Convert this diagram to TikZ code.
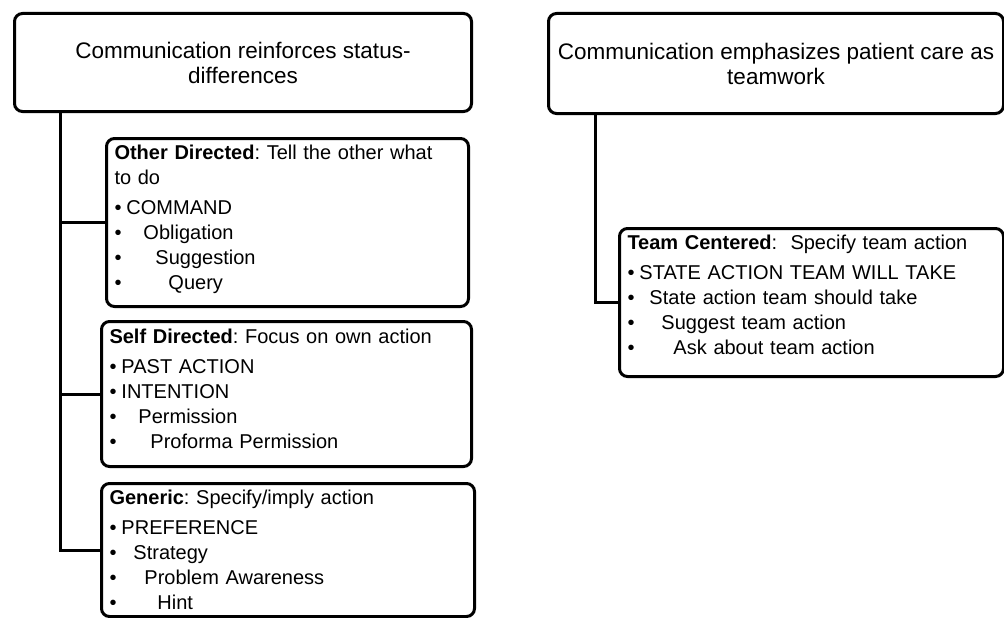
\documentclass[tikz,border=0pt]{standalone}
\usepackage{fontspec}
\setmainfont{Liberation Sans}
\usepackage{tikz}
\newcommand{\bul}[2][0pt]{\makebox[12pt][l]{\textbullet}\hspace*{#1}#2}
\newcommand{\lift}[1]{\rule[-#1]{0pt}{#1}}

\begin{document}
\begin{tikzpicture}[x=1pt,y=-1pt,
  topbox/.style={draw, line width=3pt, rounded corners=8pt, anchor=north west, align=center, font=\fontsize{22.5}{25}\selectfont\frenchspacing},
  catbox/.style={draw, line width=3pt, rounded corners=8pt, anchor=north west, align=left, inner xsep=8pt, font=\fontsize{20}{25}\selectfont\frenchspacing},
  link/.style={line width=3pt}]
\useasboundingbox (0,0) rectangle (1004,618);
\node[topbox, minimum width=457pt, minimum height=98pt] (status) at (13,12) {Communication reinforces status-\\differences};
\node[topbox, minimum width=455pt, minimum height=100pt] (teamwork) at (547,12) {Communication emphasizes patient care as\\teamwork};
\node[catbox, minimum width=362pt, text width=346pt, minimum height=168pt] (other) at (105,137) {\textbf{Other Directed}: Tell the other what\\to do\\[5pt]\bul{COMMAND}\\\bul[17pt]{Obligation}\\\bul[29pt]{Suggestion}\\\bul[42pt]{Query}\lift{11pt}};
\node[catbox, minimum width=370pt, text width=354pt, minimum height=145pt] (self) at (100,320) {\textbf{Self Directed}: Focus on own action\\[5pt]\bul{PAST ACTION}\\\bul{INTENTION}\\\bul[17pt]{Permission}\\\bul[29pt]{Proforma Permission}\lift{11pt}};
\node[catbox, minimum width=373pt, text width=357pt, minimum height=133pt] (generic) at (100,482) {\textbf{Generic}: Specify/imply action\\[5pt]\bul{PREFERENCE}\\\bul[12pt]{Strategy}\\\bul[23pt]{Problem Awareness}\\\bul[36pt]{Hint}};
\node[catbox, minimum width=384pt, text width=368pt, minimum height=148pt] (team) at (618,227) {\textbf{Team Centered}:\ \ Specify team action\\[5pt]\bul{STATE ACTION TEAM WILL TAKE}\\\bul[10pt]{State action team should take}\\\bul[22pt]{Suggest team action}\\\bul[34pt]{Ask about team action}\lift{15pt}};
\coordinate (trunkL) at ([xshift=47pt]status.south west);
\coordinate (trunkR) at ([xshift=48pt]teamwork.south west);
\draw[link] (trunkL) |- (other.west);
\draw[link] (trunkL) |- (self.west);
\draw[link] (trunkL) |- (generic.west);
\draw[link] (trunkR) |- (team.west);
\end{tikzpicture}
\end{document}
